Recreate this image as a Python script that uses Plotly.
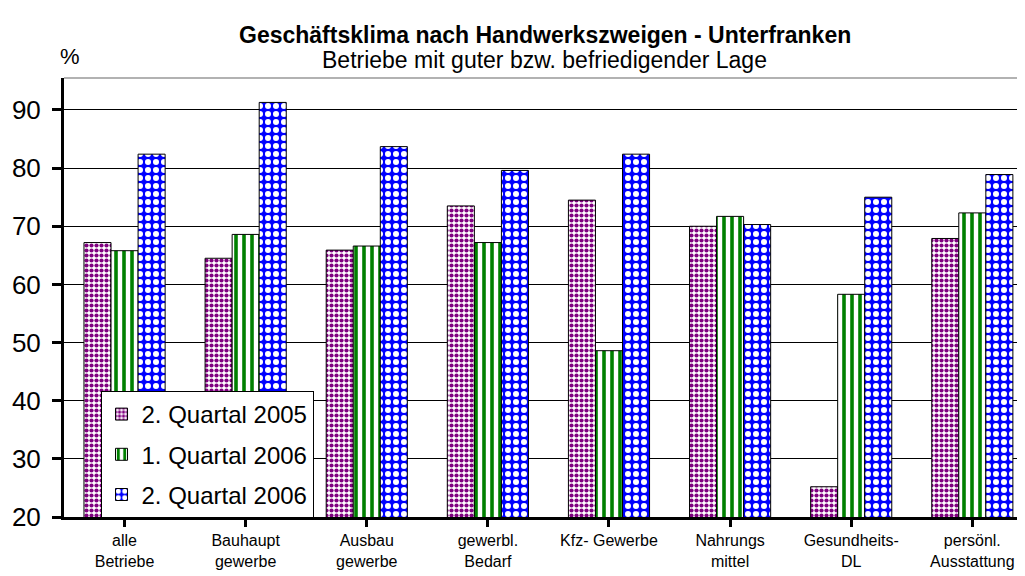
import plotly.graph_objects as go

categories = ["alle<br>Betriebe", "Bauhaupt<br>gewerbe", "Ausbau<br>gewerbe", "gewerbl.<br>Bedarf",
              "Kfz- Gewerbe<br> ", "Nahrungs<br>mittel", "Gesundheits-<br>DL", "persönl.<br>Ausstattung"]
series_names = ["2. Quartal 2005", "1. Quartal 2006", "2. Quartal 2006"]
q2_2005 = [67.2, 64.5, 65.9, 73.5, 74.5, 70.0, 25.2, 67.9]
q1_2006 = [65.8, 68.6, 66.6, 67.2, 48.6, 71.7, 58.3, 72.3]
q2_2006 = [82.4, 91.3, 83.7, 79.6, 82.4, 70.3, 75.0, 78.9]
y_ticks = [20, 30, 40, 50, 60, 70, 80, 90]

FONT = "Liberation Sans, Arial, sans-serif"
x_idx = list(range(len(categories)))

patterns = [
    dict(shape=".", fgcolor="#800080", bgcolor="white", size=5, solidity=0.55, fillmode="replace"),
    dict(shape="|", fgcolor="#008000", bgcolor="white", size=8, solidity=0.45, fillmode="replace"),
    dict(shape=".", fgcolor="white", bgcolor="#0000FF", size=8, solidity=0.45, fillmode="replace"),
]

fig = go.Figure()
for i, (name, vals) in enumerate(zip(series_names, [q2_2005, q1_2006, q2_2006])):
    fig.add_trace(go.Bar(
        x=x_idx, y=vals, name=name, legendgroup=str(i),
        marker=dict(color="white", pattern=patterns[i], line=dict(color="black", width=1)),
    ))

fig.update_layout(
    width=1017, height=568,
    margin=dict(l=56, r=0, t=70, b=59),
    paper_bgcolor="white", plot_bgcolor="white",
    barmode="group", bargap=0.33, bargroupgap=0,
    font=dict(family=FONT, color="black"),
    showlegend=True,
    legend=dict(
        x=0.038, y=0.287, xanchor="left", yanchor="top",
        bgcolor="white", bordercolor="black", borderwidth=1,
        font=dict(size=24, family=FONT, color="black"),
        traceorder="grouped", tracegroupgap=6,
    ),
    xaxis=dict(
        tickmode="array", tickvals=x_idx, ticktext=categories,
        range=[-0.5, 7.435], automargin=False,
        tickson="boundaries", ticks="outside", ticklen=7, tickwidth=3, tickcolor="black",
        showline=True, linecolor="black", linewidth=3,
        showgrid=False, zeroline=False,
        tickfont=dict(size=16, family=FONT, color="black"),
    ),
    yaxis=dict(
        range=[20, 95.5], tickmode="array", tickvals=y_ticks, automargin=False,
        ticks="outside", ticklen=9, tickwidth=3, tickcolor="black",
        ticklabelstandoff=6,
        showline=True, linecolor="black", linewidth=3,
        showgrid=True, gridcolor="black", gridwidth=1,
        zeroline=False,
        tickfont=dict(size=26, family=FONT, color="black"),
    ),
    shapes=[dict(type="line", xref="paper", yref="paper", x0=0, x1=1, y0=1, y1=1,
                 line=dict(color="#999999", width=1.5))],
    annotations=[
        dict(text="<b>Geschäftsklima nach Handwerkszweigen - Unterfranken</b>", xref="paper", yref="paper",
             x=0.5, y=1, yshift=43, xanchor="center", yanchor="middle", showarrow=False,
             font=dict(size=23, family=FONT, color="black")),
        dict(text="Betriebe mit guter bzw. befriedigender Lage", xref="paper", yref="paper",
             x=0.5, y=1, yshift=18, xanchor="center", yanchor="middle", showarrow=False,
             font=dict(size=23, family=FONT, color="black")),
        dict(text="%", xref="paper", yref="paper", x=0, xshift=6, y=1, yshift=22,
             xanchor="center", yanchor="middle", showarrow=False,
             font=dict(size=22, family=FONT, color="black")),
    ],
)

fig.write_html("out.html")
